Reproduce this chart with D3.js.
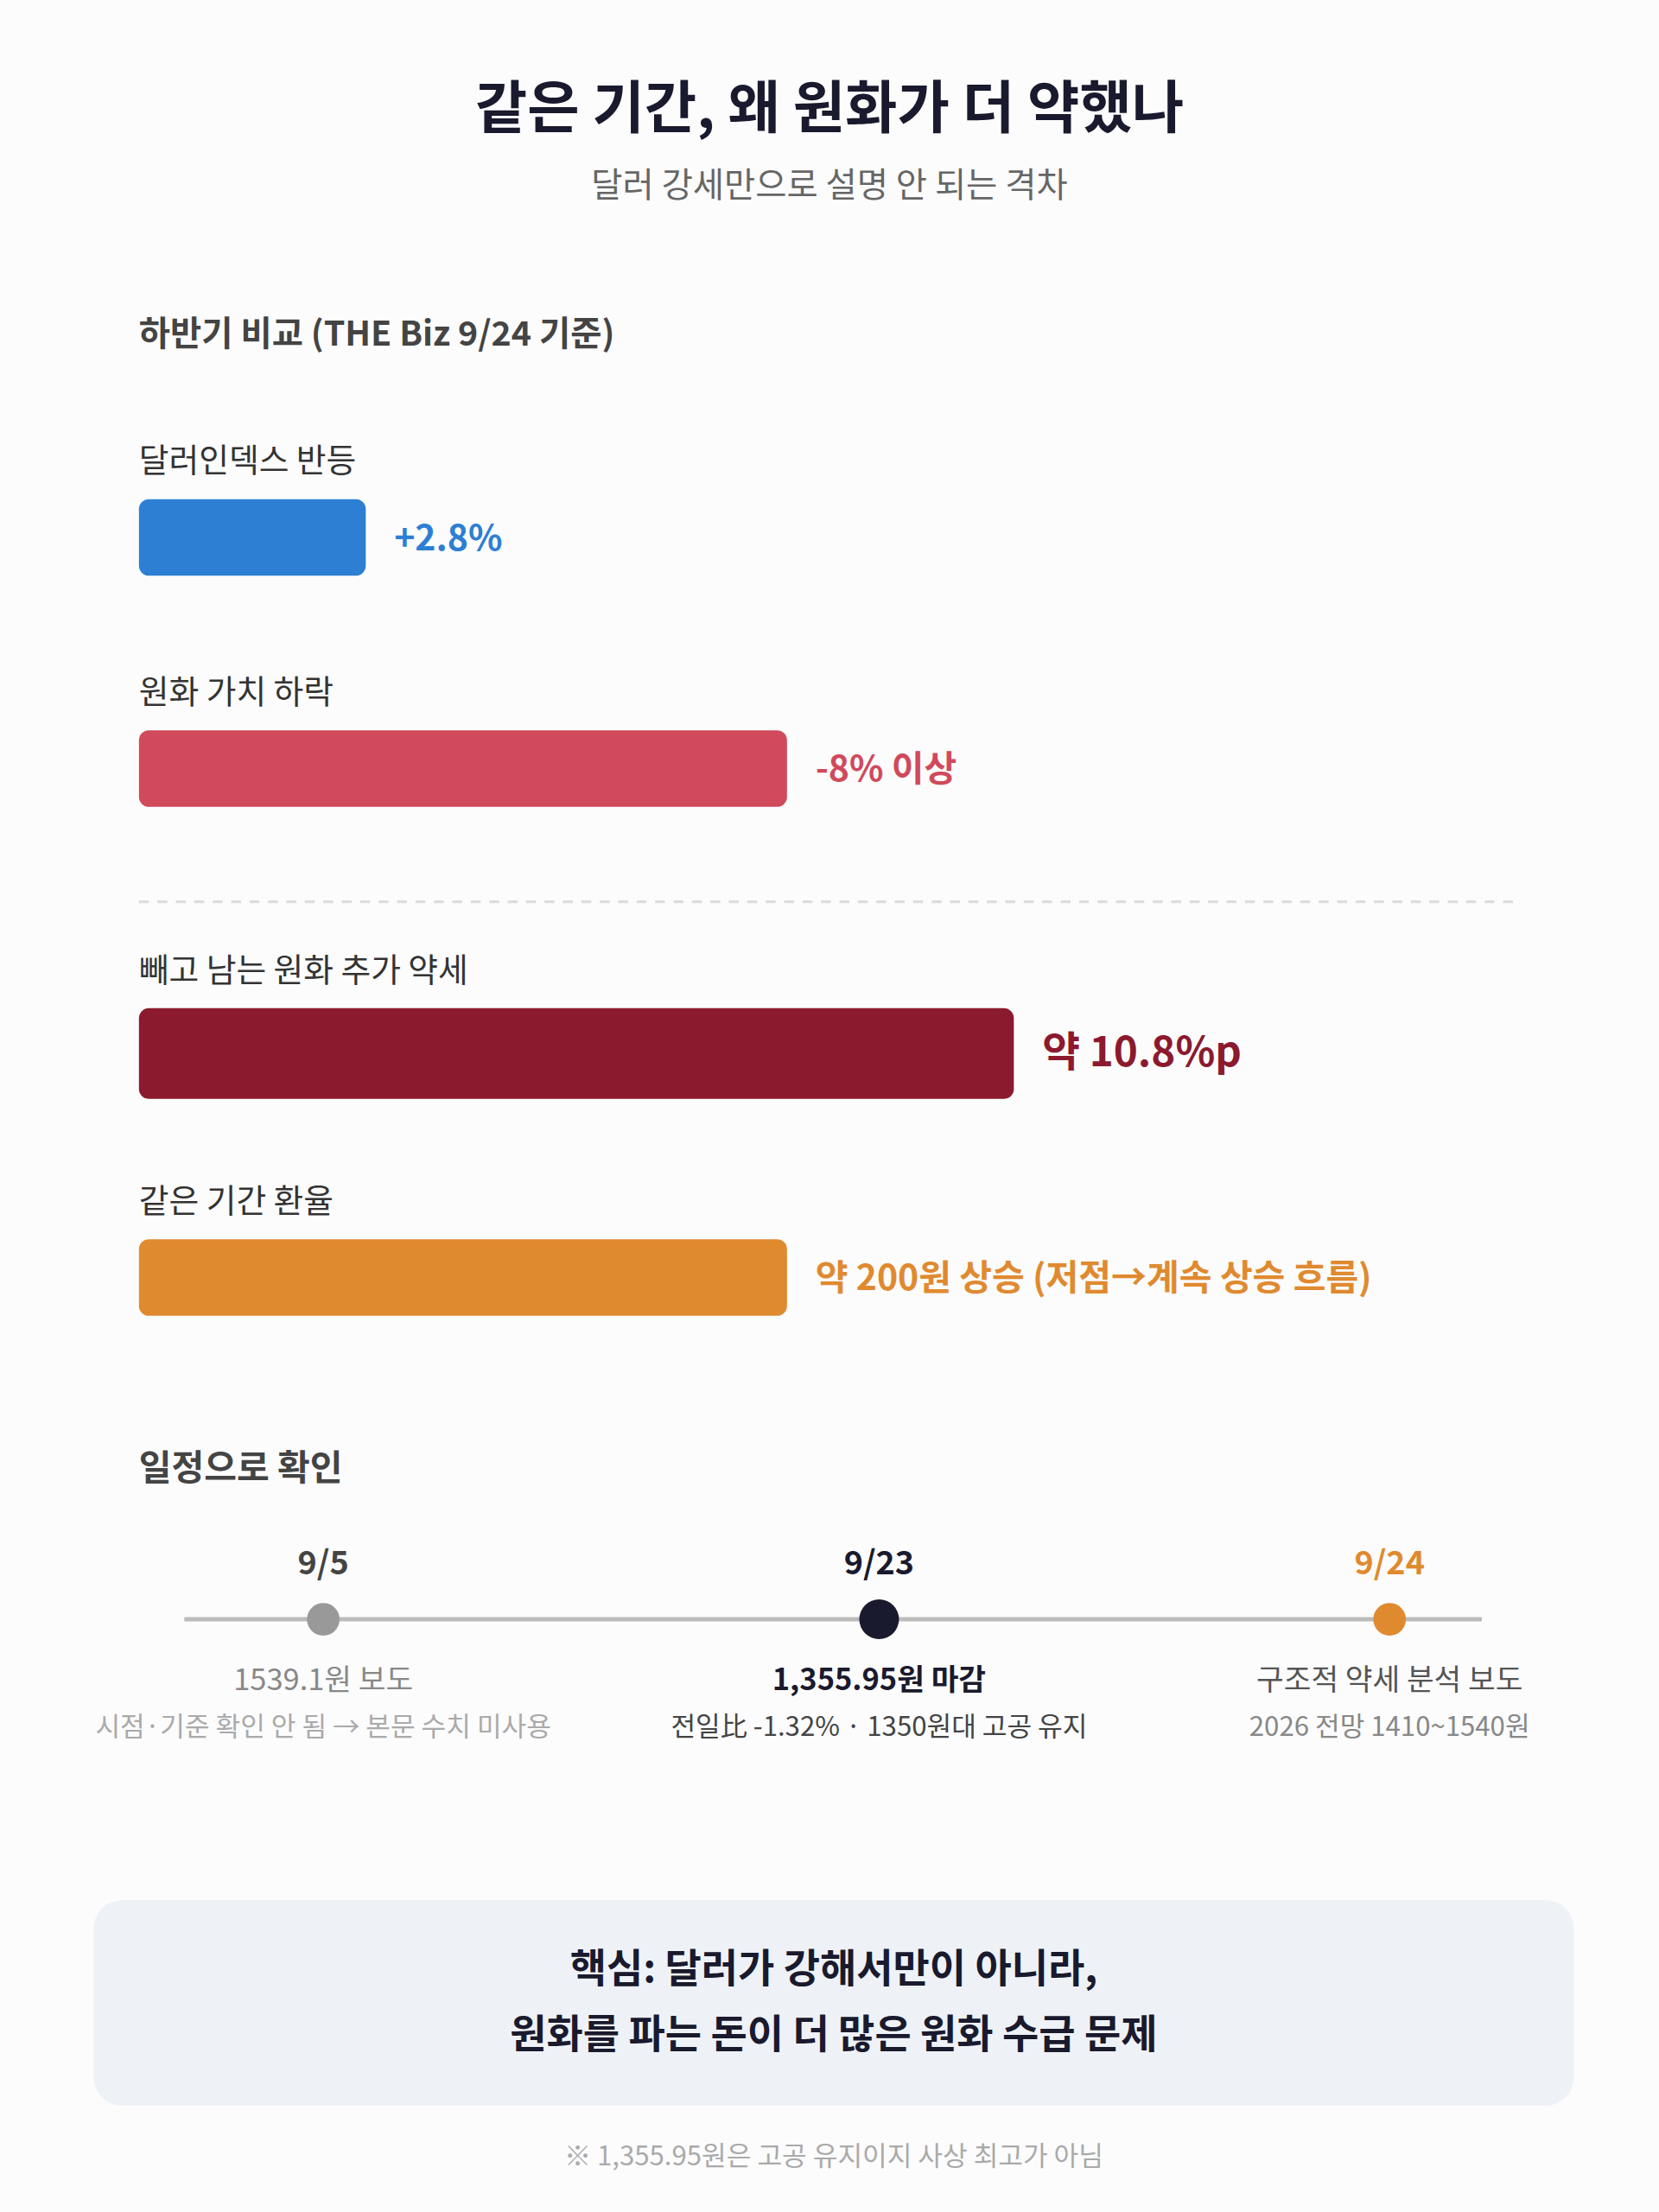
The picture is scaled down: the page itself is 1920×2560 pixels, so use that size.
<!DOCTYPE html>
<html><head><meta charset="utf-8">
<script src="https://cdn.jsdelivr.net/npm/d3@7"></script>
<style>body{margin:0;background:#fcfcfd}svg{display:block}</style>
</head><body><svg></svg>
<script>
const barLabels = ["달러인덱스 반등", "원화 가치 하락", "빼고 남는 원화 추가 약세", "같은 기간 환율"];
const barValues = [2.8, 8, 10.8, 8];
const barTexts = ["+2.8%", "-8% 이상", "약 10.8%p", "약 200원 상승 (저점→계속 상승 흐름)"];
const barColors = ["#2d7fd3", "#d04a5c", "#8b1a2e", "#e08a30"];
const barTops = [352, 515, 711, 874];
const barHeights = [54, 54, 64, 54];

const dates = ["9/5", "9/23", "9/24"];
const dateColors = ["#999999", "#1a1a2e", "#e08a30"];
const dateTextColors = ["#444", "#1a1a2e", "#e08a30"];
const line1 = ["1539.1원 보도", "1,355.95원 마감", "구조적 약세 분석 보도"];
const line2 = ["시점·기준 확인 안 됨 → 본문 수치 미사용", "전일比 -1.32% · 1350원대 고공 유지", "2026 전망 1410~1540원"];

const W = 1170, H = 1560;
const svg = d3.select("svg").attr("width", 1920).attr("height", 2560)
  .attr("viewBox", `0 0 ${W} ${H}`)
  .style("font-family", "'Noto Sans CJK KR', 'Noto Sans', sans-serif");
svg.append("rect").attr("width", W).attr("height", H).attr("fill", "#fcfcfd");

const txt = (x, y, s, size, weight, fill, anchor = "start") =>
  svg.append("text").attr("x", x).attr("y", y).attr("font-size", size)
    .attr("font-weight", weight).attr("fill", fill).attr("text-anchor", anchor).text(s);

txt(585, 90, "같은 기간, 왜 원화가 더 약했나", 40, 700, "#1a1a2e", "middle");
txt(585, 139, "달러 강세만으로 설명 안 되는 격차", 24, 400, "#666", "middle");
txt(98, 244, "하반기 비교 (THE Biz 9/24 기준)", 24, 700, "#444");

const x = d3.scaleLinear().domain([0, 10.8]).range([98, 715]);
barLabels.forEach((l, i) => {
  txt(98, barTops[i] - 19, l, 23, 400, "#333");
  svg.append("rect").attr("x", x(0)).attr("y", barTops[i])
    .attr("width", x(barValues[i]) - x(0)).attr("height", barHeights[i])
    .attr("rx", 7).attr("fill", barColors[i]);
  txt(x(barValues[i]) + 20, barTops[i] + barHeights[i] / 2 + 9, barTexts[i],
    i === 2 ? 29 : 25, 700, barColors[i]);
});
svg.append("line").attr("x1", 98).attr("x2", 1072).attr("y1", 636).attr("y2", 636)
  .attr("stroke", "#ddd").attr("stroke-width", 2).attr("stroke-dasharray", "7,6");

txt(98, 1044, "일정으로 확인", 25, 700, "#444");
const tx = d3.scalePoint().domain(dates).range([228, 980]);
const ty = 1142;
svg.append("line").attr("x1", 130).attr("x2", 1045).attr("y1", ty).attr("y2", ty)
  .attr("stroke", "#bbb").attr("stroke-width", 3);
dates.forEach((d, i) => {
  const cx = i === 1 ? 620 : tx(d);
  svg.append("circle").attr("cx", cx).attr("cy", ty).attr("r", i === 1 ? 14 : 11.5)
    .attr("fill", dateColors[i]);
  txt(cx, 1110, d, 23, 700, dateTextColors[i], "middle");
  txt(cx, 1192, line1[i], 21, i === 1 ? 700 : 400, i === 1 ? "#1a1a2e" : i === 0 ? "#888" : "#555", "middle");
  txt(cx, 1224, line2[i], 19, 400, i === 1 ? "#444" : i === 0 ? "#aaa" : "#888", "middle");
});

svg.append("rect").attr("x", 66).attr("y", 1340).attr("width", 1044).attr("height", 145)
  .attr("rx", 20).attr("fill", "#eef2f7");
txt(588, 1398, "핵심: 달러가 강해서만이 아니라,", 28, 700, "#1a1a2e", "middle");
txt(588, 1444, "원화를 파는 돈이 더 많은 원화 수급 문제", 28, 700, "#1a1a2e", "middle");
txt(588, 1527, "※ 1,355.95원은 고공 유지이지 사상 최고가 아님", 19, 400, "#aaa", "middle");
</script></body></html>
